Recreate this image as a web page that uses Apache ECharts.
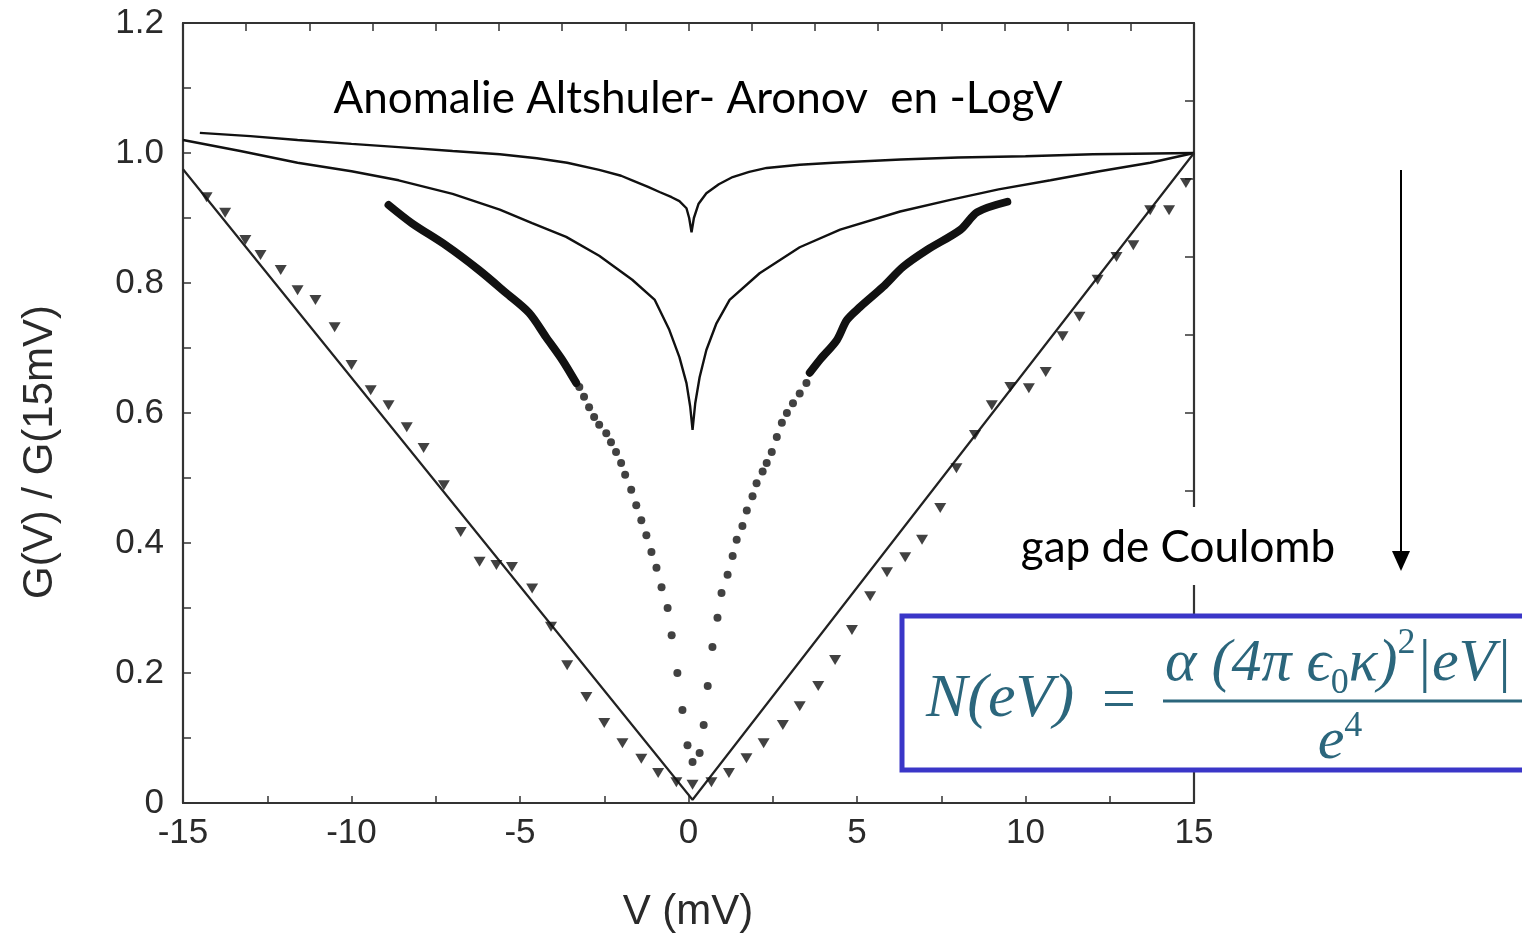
<!DOCTYPE html>
<html>
<head>
<meta charset="utf-8">
<script src="https://cdn.jsdelivr.net/npm/echarts@6/dist/echarts.min.js"></script>
<style>
html,body{margin:0;padding:0;background:#fff;}
#c{width:1522px;height:935px;}
</style>
</head>
<body>
<div id="c"></div>
<script>
// ---- tick labels ----
const xTickLabels = ['-15', '-10', '-5', '0', '5', '10', '15'];
const yTickLabels = ['0', '0.2', '0.4', '0.6', '0.8', '1.0', '1.2'];

// ---- data (V in mV, G(V)/G(15mV)) ----
// shallow logarithmic anomaly curve
const curveShallow = [
  [-14.5,1.031],[-13,1.026],[-11.6,1.02],[-10,1.014],[-8.6,1.009],[-7,1.003],[-5.6,0.998],
  [-4.5,0.992],[-3.6,0.985],[-2.65,0.974],[-2,0.965],[-1.67,0.958],[-1.2,0.948],[-0.86,0.94],
  [-0.5,0.932],[-0.27,0.926],[-0.06,0.915],[0.02,0.9],[0.09,0.878],[0.16,0.9],[0.3,0.922],
  [0.53,0.938],[0.9,0.952],[1.31,0.963],[1.8,0.971],[2.32,0.977],[3.3,0.982],[4.3,0.985],
  [6.3,0.99],[8,0.993],[10,0.995],[12,0.998],[15,1.0]
];
// deeper logarithmic anomaly curve
const curveDeep = [
  [-15,1.02],[-13.3,1.003],[-11.6,0.985],[-10,0.972],[-8.6,0.958],[-7,0.937],[-5.6,0.913],
  [-4.64,0.892],[-3.63,0.871],[-2.65,0.842],[-1.67,0.805],[-1.0,0.774],[-0.57,0.728],
  [-0.27,0.686],[-0.06,0.646],[0.05,0.61],[0.12,0.574],[0.2,0.615],[0.33,0.655],[0.53,0.697],
  [0.83,0.738],[1.22,0.774],[2.11,0.815],[3.3,0.855],[4.5,0.882],[6.28,0.91],[7.77,0.928],
  [9.2,0.944],[10.74,0.958],[12.2,0.972],[13.7,0.985],[15,1.0]
];
// dense measured points (left and right branches)
const denseLeft = [
  [-8.9,0.92],[-8.21,0.892],[-7.2,0.858],[-6.22,0.82],[-5.42,0.785],[-4.73,0.754],
  [-4.23,0.717],[-3.75,0.682],[-3.33,0.646]
];
const denseRight = [
  [3.6,0.662],[3.9,0.682],[4.4,0.712],[4.7,0.743],[5.09,0.763],[5.77,0.794],[6.37,0.825],
  [7.08,0.851],[8.07,0.882],[8.57,0.909],[9.46,0.925]
];
// sparse measured points near zero bias
const sparseDots = [
  [-3.24,0.64],[-3.1,0.625],[-2.95,0.609],[-2.8,0.594],[-2.65,0.582],[-2.44,0.569],[-2.3,0.555],
  [-2.15,0.54],[-2.0,0.523],[-1.88,0.505],[-1.7,0.482],[-1.55,0.458],[-1.4,0.435],[-1.25,0.412],
  [-1.1,0.386],[-0.95,0.362],[-0.8,0.332],[-0.62,0.3],[-0.5,0.258],[-0.33,0.2],[-0.18,0.143],
  [-0.03,0.089],[0.12,0.063],[0.33,0.077],[0.45,0.12],[0.57,0.18],[0.71,0.24],[0.86,0.285],
  [0.98,0.323],[1.16,0.351],[1.31,0.38],[1.43,0.405],[1.6,0.426],[1.73,0.45],[1.9,0.472],
  [2.02,0.492],[2.2,0.51],[2.32,0.523],[2.47,0.54],[2.62,0.563],[2.77,0.585],[2.92,0.6],
  [3.1,0.615],[3.3,0.63],[3.5,0.646]
];
// Coulomb gap: linear fit and triangle data
const linearFit = [[-15,0.975],[0.12,0.005],[15,1.0]];
const triangles = [
  [-14.3,0.932],[-13.75,0.908],[-13.15,0.866],[-12.7,0.843],[-12.1,0.82],[-11.6,0.789],
  [-11.07,0.774],[-10.5,0.732],[-10.0,0.674],[-9.43,0.635],[-8.9,0.612],[-8.36,0.578],
  [-7.86,0.546],[-7.26,0.489],[-6.76,0.417],[-6.2,0.371],[-5.7,0.366],[-5.24,0.363],
  [-4.64,0.33],[-4.08,0.271],[-3.6,0.212],[-3.03,0.163],[-2.5,0.123],[-1.96,0.092],
  [-1.4,0.068],[-0.9,0.046],[-0.36,0.032],[0.12,0.028],
  [0.68,0.032],[1.2,0.046],[1.72,0.069],[2.23,0.092],[2.8,0.12],[3.3,0.149],[3.85,0.18],
  [4.35,0.22],[4.85,0.266],[5.39,0.318],[5.89,0.355],[6.43,0.378],[6.93,0.405],[7.47,0.454],
  [7.95,0.515],[8.5,0.566],[9.0,0.612],[9.55,0.64],[10.1,0.638],[10.6,0.663],[11.1,0.718],
  [11.6,0.748],[12.14,0.805],[12.7,0.84],[13.2,0.858],[13.7,0.912],[14.26,0.912],[14.76,0.954]
];

const ink = '#111111';
const axisCol = '#333333';
const labelFont = 'Liberation Sans, Arial, sans-serif';
const eqCol = '#2b667c';
const eqFont = 'Liberation Serif, Times New Roman, serif';

function fmtX(v){ const s = String(Math.round(v*100)/100); return xTickLabels.indexOf(s) >= 0 ? s : ''; }
function fmtY(v){ const k = Math.round(v*10); if (k % 2) return ''; const s = k === 0 ? '0' : (k/10).toFixed(1); return yTickLabels.indexOf(s) >= 0 ? s : ''; }

const chart = echarts.init(document.getElementById('c'), null, {renderer:'canvas'});
const option = {
  animation: false,
  backgroundColor: '#ffffff',
  grid: {left:183, right:328, top:23, bottom:132, containLabel:false},
  xAxis: [
    {type:'value', position:'bottom', min:-15, max:15, interval:2.5,
     axisLine:{show:true, onZero:false, lineStyle:{color:axisCol, width:2.2}},
     axisTick:{show:true, inside:true, length:7, lineStyle:{color:axisCol, width:1.5}},
     axisLabel:{formatter:fmtX, margin:13, color:'#2a2a2a', fontFamily:labelFont, fontSize:35},
     splitLine:{show:false}},
    {type:'value', position:'top', min:-15, max:15, interval:1.875,
     axisLine:{show:true, onZero:false, lineStyle:{color:axisCol, width:2.2}},
     axisTick:{show:true, inside:true, length:8, lineStyle:{color:axisCol, width:1.5}},
     axisLabel:{show:false}, splitLine:{show:false}}
  ],
  yAxis: [
    {type:'value', position:'left', min:0, max:1.2, interval:0.1,
     axisLine:{show:true, onZero:false, lineStyle:{color:axisCol, width:2.2}},
     axisTick:{show:true, inside:true, length:8, lineStyle:{color:axisCol, width:1.5}},
     axisLabel:{formatter:fmtY, margin:19, color:'#2a2a2a', fontFamily:labelFont, fontSize:35},
     splitLine:{show:false}},
    {type:'value', position:'right', min:0, max:1.2, interval:0.12,
     axisLine:{show:true, onZero:false, lineStyle:{color:axisCol, width:2.2}},
     axisTick:{show:true, inside:true, length:9, lineStyle:{color:axisCol, width:1.5}},
     axisLabel:{show:false}, splitLine:{show:false}}
  ],
  series: [
    {type:'line', data:curveShallow, showSymbol:false, symbol:'none', lineStyle:{color:ink, width:2.4}, z:3},
    {type:'line', data:curveDeep, showSymbol:false, symbol:'none', lineStyle:{color:ink, width:2.4}, z:3},
    {type:'line', data:linearFit, showSymbol:false, symbol:'none', lineStyle:{color:'#222', width:2.2}, z:3},
    {type:'line', data:denseLeft, showSymbol:false, symbol:'none', smooth:0.3, lineStyle:{color:ink, width:8, cap:'round', join:'round'}, z:4},
    {type:'line', data:denseRight, showSymbol:false, symbol:'none', smooth:0.3, lineStyle:{color:ink, width:8, cap:'round', join:'round'}, z:4},
    {type:'scatter', data:sparseDots, symbol:'circle', symbolSize:8, itemStyle:{color:ink}, z:4},
    {type:'scatter', data:triangles, symbol:'triangle', symbolRotate:180, symbolSize:[12,10], itemStyle:{color:ink}, z:4}
  ],
  graphic: [
    {type:'text', x:40, y:452, rotation:Math.PI/2, z:50,
     style:{text:'G(V) / G(15mV)', font:'42px '+labelFont, fill:'#2a2a2a', align:'center', verticalAlign:'middle'}},
    {type:'text', x:688, y:912, z:50,
     style:{text:'V (mV)', font:'42px '+labelFont, fill:'#2a2a2a', align:'center', verticalAlign:'middle'}},
    {type:'text', x:698, y:99, z:50,
     style:{text:'Anomalie Altshuler- Aronov  en -LogV', font:'44px Lato, "Open Sans", sans-serif', fill:'#000', align:'center', verticalAlign:'middle'}},
    {type:'rect', shape:{x:1008, y:507, width:340, height:78}, z:40, style:{fill:'#fff', stroke:null}},
    {type:'text', x:1178, y:548, z:50,
     style:{text:'gap de Coulomb', font:'44px Lato, "Open Sans", sans-serif', fill:'#000', align:'center', verticalAlign:'middle'}},
    {type:'line', shape:{x1:1401, y1:170, x2:1401, y2:553}, z:50, style:{stroke:'#000', lineWidth:2}},
    {type:'polygon', shape:{points:[[1392,551],[1410,551],[1401,571]]}, z:50, style:{fill:'#000'}},
    {type:'rect', shape:{x:902, y:616, width:660, height:154}, z:40, style:{fill:'#fff', stroke:'#3a36c8', lineWidth:5}},
    {type:'text', x:926, y:700, z:50,
     style:{text:'N(eV)', font:'italic 62px '+eqFont, fill:eqCol, align:'left', verticalAlign:'middle'}},
    {type:'text', x:1119, y:702, z:50,
     style:{text:'=', font:'60px '+eqFont, fill:eqCol, align:'center', verticalAlign:'middle'}},
    {type:'text', x:1165, y:664, z:50,
     style:{text:'{m|α (4π ϵ}{sub|0}{m|κ)}{sup|2}{m||eV|}', align:'left', verticalAlign:'middle',
       rich:{
         m:{font:'italic 60px '+eqFont, fill:eqCol, lineHeight:76, verticalAlign:'middle'},
         sub:{font:'36px '+eqFont, fill:eqCol, verticalAlign:'bottom'},
         sup:{font:'36px '+eqFont, fill:eqCol, verticalAlign:'top'}
       }}},
    {type:'line', shape:{x1:1163, y1:701, x2:1530, y2:701}, z:50, style:{stroke:eqCol, lineWidth:3}},
    {type:'text', x:1340, y:742, z:50,
     style:{text:'{m|e}{sup|4}', align:'center', verticalAlign:'middle',
       rich:{
         m:{font:'italic 60px '+eqFont, fill:eqCol, lineHeight:66, verticalAlign:'middle'},
         sup:{font:'36px '+eqFont, fill:eqCol, verticalAlign:'top'}
       }}}
  ]
};
chart.setOption(option);
</script>
</body>
</html>
